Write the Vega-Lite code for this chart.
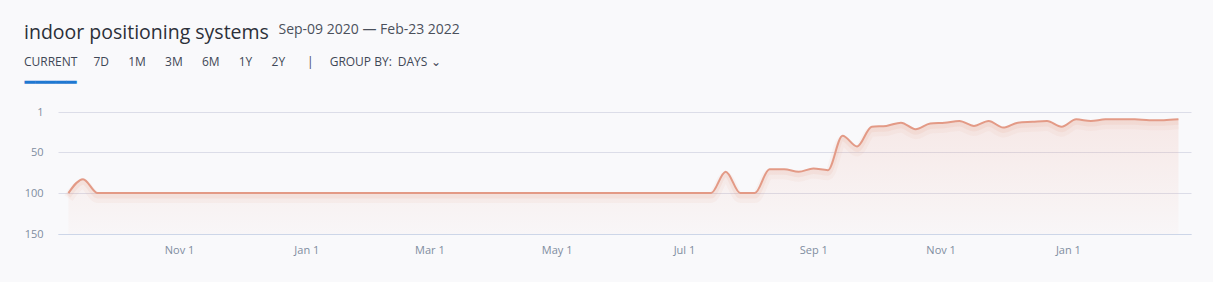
{
  "$schema": "https://vega.github.io/schema/vega-lite/v6.json",
  "width": 1133,
  "height": 122,
  "autosize": {"type": "none"},
  "padding": {"left": 58, "top": 112, "right": 22, "bottom": 48},
  "background": "#f9f9fb",
  "title": {
    "text": "indoor positioning systems",
    "subtitle": "CURRENT\u2003\u2009\u20097D\u2003\u2002\u200A1M\u2003\u2002\u200A3M\u2003\u2002\u200A6M\u2003\u2002\u200A1Y\u2003\u2002\u200A2Y\u2003\u2002\u2009\u2009|\u2003\u2009\u2009GROUP BY:\u2002DAYS \u2304",
    "anchor": "start",
    "frame": "group",
    "dx": -34,
    "dy": 47,
    "offset": 0,
    "font": "Open Sans",
    "fontSize": 19.5,
    "fontWeight": "normal",
    "color": "#2c3039",
    "subtitleFont": "Open Sans",
    "subtitleFontSize": 12,
    "subtitleColor": "#3f4756",
    "subtitlePadding": 14
  },
  "data": {
    "values": [
      {"date": "2020-09-09", "rank": 100},
      {"date": "2020-09-16", "rank": 83},
      {"date": "2020-09-23", "rank": 100},
      {"date": "2020-09-30", "rank": 100},
      {"date": "2020-10-07", "rank": 100},
      {"date": "2020-10-14", "rank": 100},
      {"date": "2020-10-21", "rank": 100},
      {"date": "2020-10-28", "rank": 100},
      {"date": "2020-11-04", "rank": 100},
      {"date": "2020-11-11", "rank": 100},
      {"date": "2020-11-18", "rank": 100},
      {"date": "2020-11-25", "rank": 100},
      {"date": "2020-12-02", "rank": 100},
      {"date": "2020-12-09", "rank": 100},
      {"date": "2020-12-16", "rank": 100},
      {"date": "2020-12-23", "rank": 100},
      {"date": "2020-12-30", "rank": 100},
      {"date": "2021-01-06", "rank": 100},
      {"date": "2021-01-13", "rank": 100},
      {"date": "2021-01-20", "rank": 100},
      {"date": "2021-01-27", "rank": 100},
      {"date": "2021-02-03", "rank": 100},
      {"date": "2021-02-10", "rank": 100},
      {"date": "2021-02-17", "rank": 100},
      {"date": "2021-02-24", "rank": 100},
      {"date": "2021-03-03", "rank": 100},
      {"date": "2021-03-10", "rank": 100},
      {"date": "2021-03-17", "rank": 100},
      {"date": "2021-03-24", "rank": 100},
      {"date": "2021-03-31", "rank": 100},
      {"date": "2021-04-07", "rank": 100},
      {"date": "2021-04-14", "rank": 100},
      {"date": "2021-04-21", "rank": 100},
      {"date": "2021-04-28", "rank": 100},
      {"date": "2021-05-05", "rank": 100},
      {"date": "2021-05-12", "rank": 100},
      {"date": "2021-05-19", "rank": 100},
      {"date": "2021-05-26", "rank": 100},
      {"date": "2021-06-02", "rank": 100},
      {"date": "2021-06-09", "rank": 100},
      {"date": "2021-06-16", "rank": 100},
      {"date": "2021-06-23", "rank": 100},
      {"date": "2021-06-30", "rank": 100},
      {"date": "2021-07-07", "rank": 100},
      {"date": "2021-07-14", "rank": 100},
      {"date": "2021-07-21", "rank": 74},
      {"date": "2021-07-28", "rank": 100},
      {"date": "2021-08-04", "rank": 100},
      {"date": "2021-08-11", "rank": 71},
      {"date": "2021-08-18", "rank": 71},
      {"date": "2021-08-25", "rank": 74},
      {"date": "2021-09-01", "rank": 70},
      {"date": "2021-09-08", "rank": 72},
      {"date": "2021-09-15", "rank": 30},
      {"date": "2021-09-22", "rank": 43},
      {"date": "2021-09-29", "rank": 19},
      {"date": "2021-10-06", "rank": 18},
      {"date": "2021-10-13", "rank": 14},
      {"date": "2021-10-20", "rank": 22},
      {"date": "2021-10-27", "rank": 15},
      {"date": "2021-11-03", "rank": 14},
      {"date": "2021-11-10", "rank": 12},
      {"date": "2021-11-17", "rank": 18},
      {"date": "2021-11-24", "rank": 12},
      {"date": "2021-12-01", "rank": 20},
      {"date": "2021-12-08", "rank": 14},
      {"date": "2021-12-15", "rank": 13},
      {"date": "2021-12-22", "rank": 12},
      {"date": "2021-12-29", "rank": 19},
      {"date": "2022-01-05", "rank": 10},
      {"date": "2022-01-12", "rank": 12},
      {"date": "2022-01-19", "rank": 10},
      {"date": "2022-01-26", "rank": 10},
      {"date": "2022-02-02", "rank": 10},
      {"date": "2022-02-09", "rank": 11},
      {"date": "2022-02-16", "rank": 11},
      {"date": "2022-02-23", "rank": 10}
    ]
  },
  "encoding": {
    "x": {
      "field": "date",
      "type": "temporal",
      "scale": {
        "type": "utc",
        "domain": [
          {"year": 2020, "month": 9, "date": 4, "utc": true},
          {"year": 2022, "month": 3, "date": 1, "utc": true}
        ]
      },
      "axis": {
        "format": "%b %-d",
        "values": [
          {"year": 2020, "month": 11, "date": 1, "utc": true},
          {"year": 2021, "month": 1, "date": 1, "utc": true},
          {"year": 2021, "month": 3, "date": 1, "utc": true},
          {"year": 2021, "month": 5, "date": 1, "utc": true},
          {"year": 2021, "month": 7, "date": 1, "utc": true},
          {"year": 2021, "month": 9, "date": 1, "utc": true},
          {"year": 2021, "month": 11, "date": 1, "utc": true},
          {"year": 2022, "month": 1, "date": 1, "utc": true}
        ],
        "grid": false,
        "domain": true,
        "domainColor": "#cdd6e8",
        "domainWidth": 1,
        "ticks": false,
        "labelColor": "#7f8da0",
        "labelFont": "Open Sans",
        "labelFontSize": 11,
        "labelPadding": 10,
        "title": "\u2501\u2501\u2501\u2501\u2501",
        "titleFont": "DejaVu Sans",
        "titleFontSize": 17.3,
        "titleFontWeight": "normal",
        "titleColor": "#1f78d1",
        "titleAlign": "left",
        "titleBaseline": "middle",
        "titleX": -34,
        "titleY": -152
      }
    },
    "y": {
      "field": "rank",
      "type": "quantitative",
      "scale": {"domain": [1, 150], "reverse": true, "nice": false, "zero": false},
      "axis": {
        "values": [1, 50, 100, 150],
        "grid": true,
        "gridColor": "#dcdde8",
        "domain": false,
        "ticks": false,
        "labelColor": "#7f8da0",
        "labelFont": "Open Sans",
        "labelFontSize": 11,
        "labelPadding": 15,
        "title": "Sep-09 2020 \u2014 Feb-23 2022",
        "titleAngle": 0,
        "titleAlign": "left",
        "titleBaseline": "alphabetic",
        "titleX": 220,
        "titleY": -79,
        "titleFont": "Open Sans",
        "titleFontSize": 14,
        "titleFontWeight": "normal",
        "titleColor": "#4b505b"
      }
    }
  },
  "layer": [
    {
      "mark": {
        "type": "area",
        "interpolate": "monotone",
        "color": {
          "gradient": "linear",
          "x1": 0, "y1": 0, "x2": 0, "y2": 1,
          "stops": [
            {"offset": 0, "color": "rgba(232,150,130,0.17)"},
            {"offset": 1, "color": "rgba(232,150,130,0.03)"}
          ]
        }
      },
      "encoding": {"y2": {"datum": 150}}
    },
    {
      "mark": {"type": "line", "interpolate": "monotone", "color": "#e59a86", "strokeWidth": 10, "opacity": 0.07, "yOffset": 5},
      "encoding": {}
    },
    {
      "mark": {"type": "line", "interpolate": "monotone", "color": "#e59a86", "strokeWidth": 5, "opacity": 0.12, "yOffset": 3},
      "encoding": {}
    },
    {
      "mark": {"type": "line", "interpolate": "monotone", "color": "#e39a86", "strokeWidth": 2},
      "encoding": {}
    }
  ],
  "config": {"view": {"stroke": null}}
}
